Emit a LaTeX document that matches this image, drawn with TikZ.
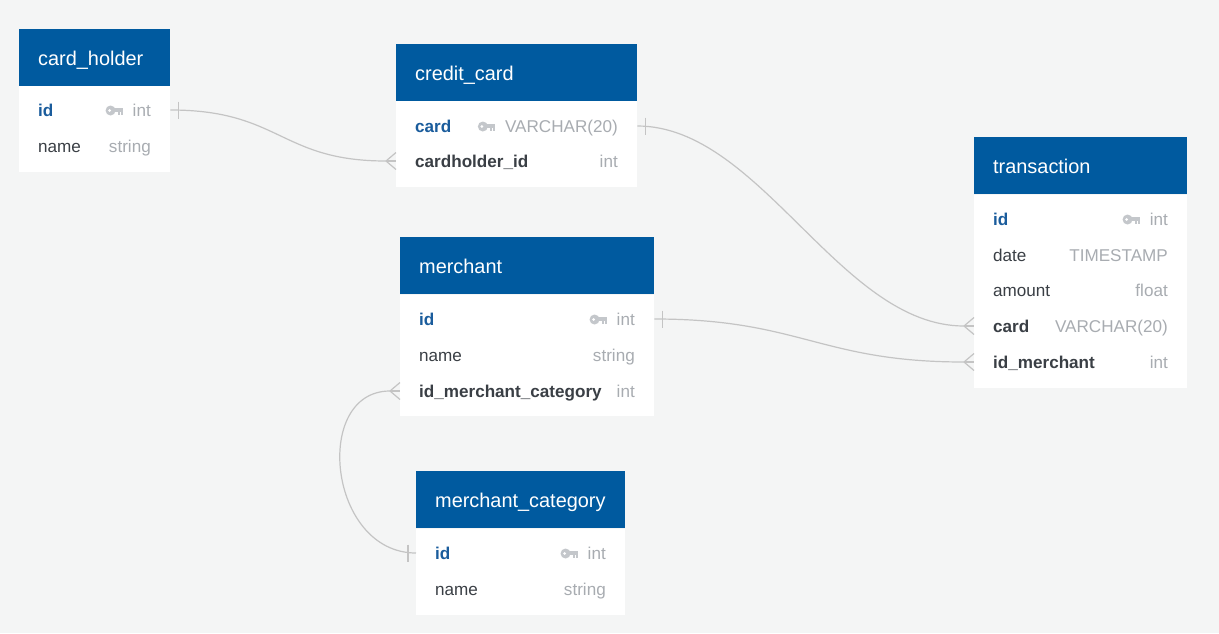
\documentclass[tikz,border=0pt]{standalone}
\usepackage{fontspec}
\setmainfont{Liberation Sans}

\definecolor{bggray}{HTML}{F4F5F5}
\definecolor{headblue}{HTML}{005A9F}
\definecolor{pkblue}{HTML}{1A5C9C}
\definecolor{fielddark}{HTML}{3A3F45}
\definecolor{typegray}{HTML}{A8ACB1}
\definecolor{keygray}{HTML}{C4C7CB}
\definecolor{linegray}{HTML}{C4C4C4}

\newcommand{\headfont}{\fontsize{19.9}{22}\selectfont}
\newcommand{\rowfont}{\fontsize{17.1}{19}\selectfont}

\tikzset{
  tblhead/.style={fill=headblue, text=white, font=\headfont, anchor=north west,
    minimum height=57, inner xsep=19, inner ysep=0, align=left,
    text height=15, text depth=0},
  rowbox/.style={anchor=west, minimum height=36, inner sep=0},
  pkfield/.style={anchor=base west, inner sep=0, font=\rowfont\bfseries, text=pkblue},
  fkfield/.style={anchor=base west, inner sep=0, font=\rowfont\bfseries, text=fielddark},
  field/.style={anchor=base west, inner sep=0, font=\rowfont, text=fielddark},
  ftype/.style={anchor=base east, inner sep=0, font=\rowfont, text=typegray},
  rel/.style={draw=linegray, line width=1.2pt},
  pkey/.pic={
    \fill[keygray] (-22,0) circle (5);
    \fill[keygray] (-19,-2.6) rectangle (-10,1.4);
    \fill[keygray] (-14.8,0) rectangle (-12.6,4.2);
    \fill[keygray] (-12,0) rectangle (-10,4.2);
    \fill[white] (-23,0) circle (1.5);
  },
  manyend/.pic={
    \draw[rel] (-10,0) -- (0,-8.5);
    \draw[rel] (-10,0) -- (0,0);
    \draw[rel] (-10,0) -- (0,8.5);
  },
  onebar/.pic={
    \draw[rel] (0,-8.5) -- (0,8.5);
  }
}

\begin{document}
\begin{tikzpicture}[x=1pt, y=-1pt]

  % Canvas
  \fill[bggray] (0,0) rectangle (1219,633);
  \useasboundingbox (0,0) rectangle (1219,633);

  % Tables, body only
  \fill[white] (19,86)   rectangle (170,172);
  \fill[white] (396,101) rectangle (637,187);
  \fill[white] (974,195) rectangle (1187,388);
  \fill[white] (400,295) rectangle (654,416);
  \fill[white] (416,529) rectangle (625,615);

  %%%%%%%%%%%%%%%%%%%%%%%%%%%%%%%%%%%%%%%%%%%%%%%%%%%%%%%%%%%%%%%%%%%%%%%%%%%%
  %% card_holder
  %%%%%%%%%%%%%%%%%%%%%%%%%%%%%%%%%%%%%%%%%%%%%%%%%%%%%%%%%%%%%%%%%%%%%%%%%%%%
  \node[tblhead, text width=113] (ch) at (19,29) {card\_holder};
  \node[rowbox, minimum width=151] (ch-id)   at (19,110) {};
  \node[rowbox, minimum width=151] (ch-name) at (19,146) {};
  \node[pkfield] (ch-id-f)   at (38,116.5) {id};
  \node[ftype]   (ch-id-t)   at (151,116.5) {int};
  \node[field]   (ch-name-f) at (38,152.5) {name};
  \node[ftype]   (ch-name-t) at (151,152.5) {string};
  \pic at ([yshift=6pt]ch-id-t.base west) {pkey};

  %%%%%%%%%%%%%%%%%%%%%%%%%%%%%%%%%%%%%%%%%%%%%%%%%%%%%%%%%%%%%%%%%%%%%%%%%%%%
  %% credit_card
  %%%%%%%%%%%%%%%%%%%%%%%%%%%%%%%%%%%%%%%%%%%%%%%%%%%%%%%%%%%%%%%%%%%%%%%%%%%%
  \node[tblhead, text width=203] (cc) at (396,44) {credit\_card};
  \node[rowbox, minimum width=241] (cc-card) at (396,126) {};
  \node[rowbox, minimum width=241] (cc-hid)  at (396,161) {};
  \node[pkfield] (cc-card-f) at (415,132.5) {card};
  \node[ftype]   (cc-card-t) at (618,132.5) {VARCHAR(20)};
  \node[fkfield] (cc-hid-f)  at (415,167.5) {cardholder\_id};
  \node[ftype]   (cc-hid-t)  at (618,167.5) {int};
  \pic at ([yshift=6pt]cc-card-t.base west) {pkey};

  %%%%%%%%%%%%%%%%%%%%%%%%%%%%%%%%%%%%%%%%%%%%%%%%%%%%%%%%%%%%%%%%%%%%%%%%%%%%
  %% transaction
  %%%%%%%%%%%%%%%%%%%%%%%%%%%%%%%%%%%%%%%%%%%%%%%%%%%%%%%%%%%%%%%%%%%%%%%%%%%%
  \node[tblhead, text width=175] (tr) at (974,137) {transaction};
  \foreach \n/\y in {id/219, date/255, amount/290, card/326, idm/362}
    \node[rowbox, minimum width=213] (tr-\n) at (974,\y) {};
  \node[pkfield] (tr-id-f) at (993,225.5) {id};
  \node[ftype]   (tr-id-t) at (1168,225.5) {int};
  \pic at ([yshift=6pt]tr-id-t.base west) {pkey};
  % plain columns
  \foreach \n/\f/\t/\y in {date/date/TIMESTAMP/261.5, amount/amount/float/296.5}
  {
    \node[field] (tr-\n-f) at (993,\y) {\f};
    \node[ftype] (tr-\n-t) at (1168,\y) {\t};
  }
  % foreign keys
  \node[fkfield] (tr-card-f) at (993,332.5) {card};
  \node[ftype]   (tr-card-t) at (1168,332.5) {VARCHAR(20)};
  \node[fkfield] (tr-idm-f)  at (993,368.5) {id\_merchant};
  \node[ftype]   (tr-idm-t)  at (1168,368.5) {int};

  %%%%%%%%%%%%%%%%%%%%%%%%%%%%%%%%%%%%%%%%%%%%%%%%%%%%%%%%%%%%%%%%%%%%%%%%%%%%
  %% merchant
  %%%%%%%%%%%%%%%%%%%%%%%%%%%%%%%%%%%%%%%%%%%%%%%%%%%%%%%%%%%%%%%%%%%%%%%%%%%%
  \node[tblhead, text width=216] (m) at (400,237) {merchant};
  \node[rowbox, minimum width=254] (m-id)   at (400,319) {};
  \node[rowbox, minimum width=254] (m-name) at (400,355) {};
  \node[rowbox, minimum width=254] (m-idc)  at (400,391) {};
  \node[pkfield] (m-id-f)   at (419,325.5) {id};
  \node[ftype]   (m-id-t)   at (635,325.5) {int};
  \node[field]   (m-name-f) at (419,361.5) {name};
  \node[ftype]   (m-name-t) at (635,361.5) {string};
  \node[fkfield] (m-idc-f)  at (419,397.5) {id\_merchant\_category};
  \node[ftype]   (m-idc-t)  at (635,397.5) {int};
  \pic at ([yshift=6pt]m-id-t.base west) {pkey};

  %%%%%%%%%%%%%%%%%%%%%%%%%%%%%%%%%%%%%%%%%%%%%%%%%%%%%%%%%%%%%%%%%%%%%%%%%%%%
  %% merchant_category
  %%%%%%%%%%%%%%%%%%%%%%%%%%%%%%%%%%%%%%%%%%%%%%%%%%%%%%%%%%%%%%%%%%%%%%%%%%%%
  \node[tblhead, text width=171] (mc) at (416,471) {merchant\_category};
  \node[rowbox, minimum width=209] (mc-id)   at (416,553) {};
  \node[rowbox, minimum width=209] (mc-name) at (416,589) {};
  \node[pkfield] (mc-id-f)   at (435,559.5) {id};
  \node[ftype]   (mc-id-t)   at (606,559.5) {int};
  \node[field]   (mc-name-f) at (435,595.5) {name};
  \node[ftype]   (mc-name-t) at (606,595.5) {string};
  \pic at ([yshift=6pt]mc-id-t.base west) {pkey};

  %%%%%%%%%%%%%%%%%%%%%%%%%%%%%%%%%%%%%%%%%%%%%%%%%%%%%%%%%%%%%%%%%%%%%%%%%%%%
  %% Relations
  %%%%%%%%%%%%%%%%%%%%%%%%%%%%%%%%%%%%%%%%%%%%%%%%%%%%%%%%%%%%%%%%%%%%%%%%%%%%

  % card_holder.id -< credit_card.cardholder_id
  \draw[rel] (ch-id.east) .. controls +(110,0) and +(-106,0) .. ([xshift=-10pt]cc-hid.west);
  \pic at ([xshift=8pt]ch-id.east) {onebar};
  \pic at (cc-hid.west) {manyend};

  % credit_card.card -< transaction.card
  \draw[rel] (cc-card.east) .. controls +(123,0) and +(-124,0) .. ([xshift=-10pt]tr-card.west);
  \pic at ([xshift=8pt]cc-card.east) {onebar};
  \pic at (tr-card.west) {manyend};

  % merchant.id -< transaction.id_merchant
  \draw[rel] (m-id.east) .. controls +(146,0) and +(-144,0) .. ([xshift=-10pt]tr-idm.west);
  \pic at ([xshift=8pt]m-id.east) {onebar};
  \pic at (tr-idm.west) {manyend};

  % merchant_category.id -< merchant.id_merchant_category
  \draw[rel] ([xshift=-10pt]m-idc.west) .. controls +(-78,0) and +(-88,0) .. (mc-id.west);
  \pic at ([xshift=-8pt]mc-id.west) {onebar};
  \pic at (m-idc.west) {manyend};

\end{tikzpicture}
\end{document}
